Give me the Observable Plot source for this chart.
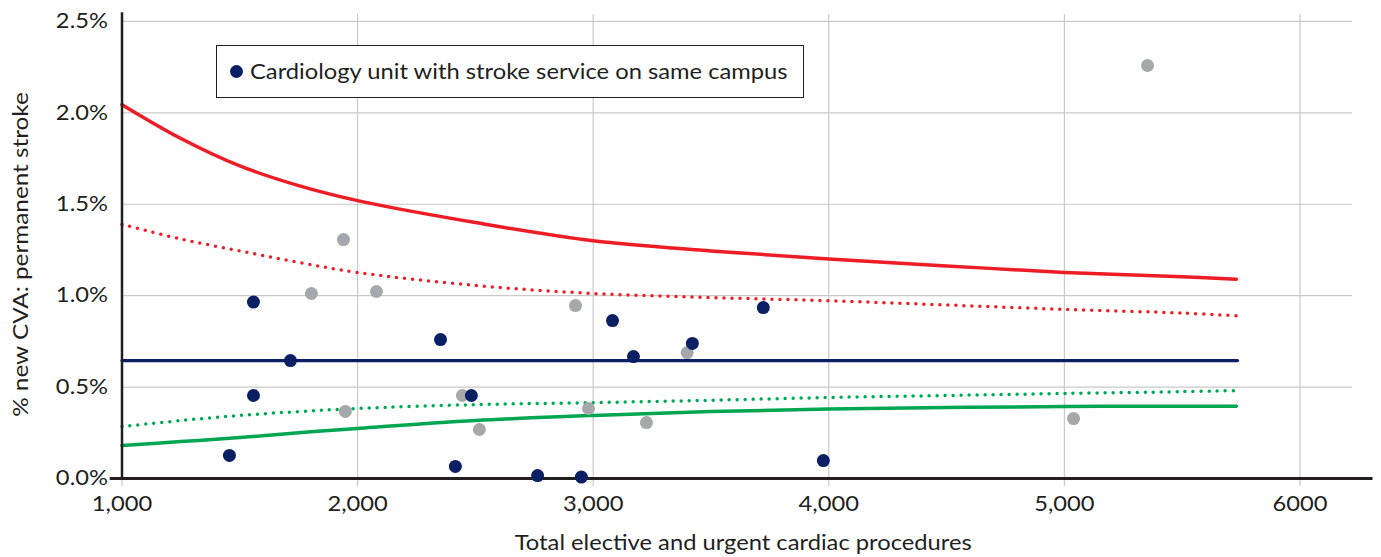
<!DOCTYPE html>
<html><head><meta charset="utf-8">
<script src="https://cdn.jsdelivr.net/npm/d3@7"></script>
<script src="https://cdn.jsdelivr.net/npm/@observablehq/plot@0.6"></script>
<style>
body{margin:0;background:#fff;font-family:Lato,sans-serif;}
#wrap{position:relative;width:1381px;height:557px;}
#legend{position:absolute;left:216px;top:45px;width:588px;height:53px;border:1.5px solid #231f20;background:#fff;box-sizing:border-box;font-size:21px;color:#231f20;}
#legend .dot{position:absolute;left:13px;top:19px;width:13px;height:13px;border-radius:50%;background:#0b1f64;}
#legend .lab{position:absolute;left:33px;top:12px;line-height:26px;white-space:nowrap;transform:scaleX(1.13);transform-origin:0 50%;}
</style></head><body><div id="wrap"></div>
<script>
// Units with stroke service on same campus (navy)
const sameCampusX = [1456, 1558, 1558, 1715, 2352, 2483, 2415, 2764, 2950, 3082, 3171, 3421, 3722, 3977];
const sameCampusY = [0.126, 0.965, 0.454, 0.645, 0.76, 0.454, 0.066, 0.016, 0.008, 0.864, 0.667, 0.739, 0.935, 0.098];
// Other units (grey)
const otherX = [1804, 1940, 1948, 2080, 2445, 2517, 2925, 2980, 3226, 3399, 5039, 5353];
const otherY = [1.012, 1.307, 0.367, 1.023, 0.454, 0.268, 0.946, 0.383, 0.306, 0.689, 0.328, 2.259];
// Funnel limits (% vs procedures)
const limitX   = [1000, 1250, 1500, 1750, 2000, 2500, 3000, 3500, 4000, 4500, 5000, 5500, 5730];
const upper998 = [2.045, 1.86, 1.71, 1.602, 1.52, 1.40, 1.30, 1.245, 1.20, 1.163, 1.127, 1.103, 1.09];
const upper95  = [1.39, 1.31, 1.245, 1.182, 1.127, 1.056, 1.012, 0.99, 0.972, 0.949, 0.925, 0.905, 0.89];
const lower95  = [0.284, 0.317, 0.345, 0.366, 0.383, 0.404, 0.415, 0.428, 0.443, 0.454, 0.465, 0.475, 0.481];
const lower998 = [0.18, 0.202, 0.224, 0.25, 0.274, 0.317, 0.345, 0.366, 0.38, 0.388, 0.394, 0.395, 0.395];
const meanRate = 0.645;
const meanX = [1000, 5735];
const xTicks = [1000, 2000, 3000, 4000, 5000, 6000];
const xTickLabels = ["1,000", "2,000", "3,000", "4,000", "5,000", "6000"];
const yTicks = [0, 0.5, 1.0, 1.5, 2.0, 2.5];
const xLabel = "Total elective and urgent cardiac procedures";
const yLabel = "% new CVA: permanent stroke";
const legendLabel = "Cardiology unit with stroke service on same campus";

const navy = "#0b1f64", grey = "#a7a8ab", red = "#ee1c25", green = "#00a651", grid = "#c9c9c9", ink = "#231f20";
const pts = (xs, ys) => xs.map((x, i) => ({x, y: ys[i]}));
const line = (ys) => limitX.map((x, i) => ({x, y: ys[i]}));

const chart = Plot.plot({
  width: 1381, height: 557,
  marginLeft: 121.5, marginRight: 29, marginTop: 14, marginBottom: 79,
  style: {fontFamily: "Lato, sans-serif", fontSize: "21px", color: ink, background: "#fff"},
  x: {domain: [1000, 6223]},
  y: {domain: [0, 2.538]},
  marks: [
    Plot.ruleY(yTicks.slice(1), {x1: 1000, x2: 6223, stroke: grid, strokeWidth: 1.2}),
    Plot.ruleX(xTicks.slice(1), {y1: 0, y2: 2.538, stroke: grid, strokeWidth: 1.2}),
    Plot.axisX({ticks: xTicks, tickFormat: d => xTickLabels[xTicks.indexOf(d)], tickSize: 8, tickPadding: 10, stroke: grid, strokeWidth: 1.2, fill: ink, fontSize: 21, label: null}),
    Plot.axisY({ticks: yTicks, tickFormat: d => d.toFixed(1) + "%", tickSize: 0, tickPadding: 14, fill: ink, fontSize: 21, label: null}),
    Plot.line(line(upper998), {x: "x", y: "y", stroke: red, strokeWidth: 3.5, curve: "catmull-rom"}),
    Plot.line(line(upper95), {x: "x", y: "y", stroke: red, strokeWidth: 3.5, strokeDasharray: "0,8", strokeLinecap: "round", curve: "catmull-rom"}),
    Plot.line(line(lower95), {x: "x", y: "y", stroke: green, strokeWidth: 3.5, strokeDasharray: "0,8", strokeLinecap: "round", curve: "catmull-rom"}),
    Plot.line(line(lower998), {x: "x", y: "y", stroke: green, strokeWidth: 3.5, curve: "catmull-rom"}),
    Plot.line(meanX.map(x => ({x, y: meanRate})), {x: "x", y: "y", stroke: navy, strokeWidth: 3.2}),
    Plot.ruleX([1000], {y1: 0, y2: 2.548, stroke: ink, strokeWidth: 2.5}),
    Plot.ruleY([0], {x1: 950, x2: 6310, stroke: ink, strokeWidth: 3}),
    Plot.dot(pts(otherX, otherY), {x: "x", y: "y", r: 6.5, fill: grey}),
    Plot.dot(pts(sameCampusX, sameCampusY), {x: "x", y: "y", r: 6.5, fill: navy}),
    Plot.text([xLabel], {frameAnchor: "bottom", lineAnchor: "middle", textAnchor: "middle", dy: 65, dx: 6, fill: ink, fontSize: 21}),
    Plot.text([yLabel], {frameAnchor: "left", lineAnchor: "middle", textAnchor: "middle", rotate: -90, dx: -101, dy: 8, fill: ink, fontSize: 21.5, ariaLabel: "ylabel"})
  ]
});
// the reference typography is slightly wider than Lato: widen horizontal texts
chart.querySelectorAll("text").forEach(t => {
  if (t.closest('[aria-label="ylabel"]')) return;
  const x = parseFloat(t.getAttribute("x")) || 0;
  const tr = t.getAttribute("transform") || "";
  t.setAttribute("transform", `${tr} translate(${x},0) scale(1.13,1) translate(${-x},0)`);
});
const wrap = document.getElementById("wrap");
wrap.appendChild(chart);
const lg = document.createElement("div");
lg.id = "legend";
lg.innerHTML = '<span class="dot"></span><span class="lab"></span>';
lg.querySelector(".lab").textContent = legendLabel;
wrap.appendChild(lg);
</script>
</body></html>
